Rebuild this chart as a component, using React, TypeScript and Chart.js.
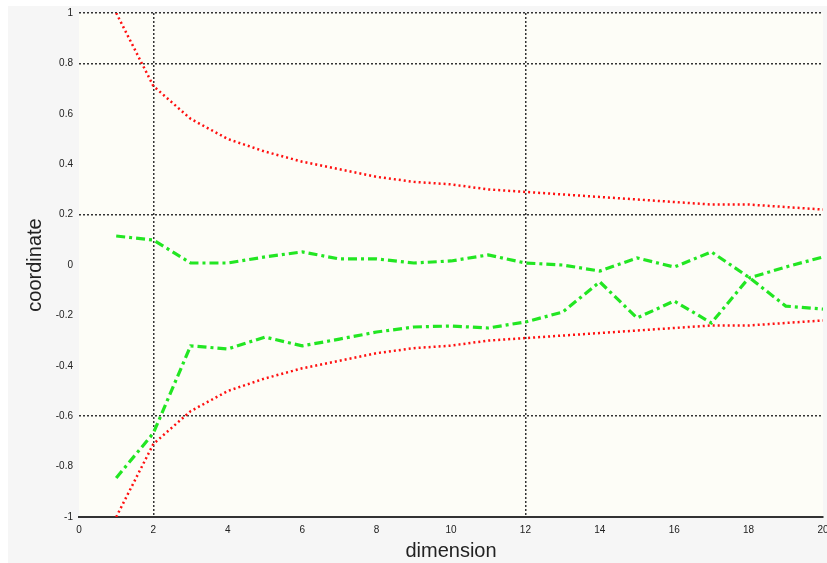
import React, { useEffect, useRef } from "react";
import { Chart, registerables } from "chart.js";

Chart.register(...registerables);

const dims = [1, 2, 3, 4, 5, 6, 7, 8, 9, 10, 11, 12, 13, 14, 15, 16, 17, 18, 19, 20];
const upperBound = [1.0, 0.71, 0.58, 0.5, 0.45, 0.41, 0.38, 0.35, 0.33, 0.32, 0.3, 0.29, 0.28, 0.27, 0.26, 0.25, 0.24, 0.24, 0.23, 0.22];
const lowerBound = [-1.0, -0.71, -0.58, -0.5, -0.45, -0.41, -0.38, -0.35, -0.33, -0.32, -0.3, -0.29, -0.28, -0.27, -0.26, -0.25, -0.24, -0.24, -0.23, -0.22];
const coordA = [0.115, 0.099, 0.008, 0.008, 0.032, 0.052, 0.024, 0.024, 0.008, 0.016, 0.04, 0.008, 0.0, -0.024, 0.028, -0.008, 0.052, -0.048, -0.163, -0.175];
const coordB = [-0.845, -0.667, -0.321, -0.333, -0.286, -0.321, -0.294, -0.266, -0.246, -0.242, -0.25, -0.226, -0.187, -0.067, -0.21, -0.143, -0.23, -0.052, -0.008, 0.032];
const xGridAt = [2, 12];
const yGridAt = [1, 0.8, 0.2, -0.6];

const pts = (ys: number[]) => dims.map((d, i) => ({ x: d, y: ys[i] }));

const plotBg = {
  id: "plotBg",
  beforeDraw(chart: any) {
    const { ctx, chartArea } = chart;
    ctx.save();
    ctx.fillStyle = "#fdfdf7";
    ctx.fillRect(chartArea.left, chartArea.top, chartArea.right - chartArea.left, chartArea.bottom - chartArea.top);
    ctx.restore();
  },
};

export default function App() {
  const ref = useRef<HTMLCanvasElement>(null);
  useEffect(() => {
    document.body.style.margin = "6px 0 0 8px";
    const red = "#ff1010";
    const green = "#22e622";
    const chart = new Chart(ref.current!, {
      type: "line",
      data: {
        datasets: [
          { data: pts(upperBound), borderColor: red, borderWidth: 2.5, borderDash: [2, 3], pointRadius: 0, fill: false, tension: 0 },
          { data: pts(lowerBound), borderColor: red, borderWidth: 2.5, borderDash: [2, 3], pointRadius: 0, fill: false, tension: 0 },
          { data: pts(coordA), borderColor: green, borderWidth: 3.2, borderDash: [9, 4, 3, 4], pointRadius: 0, fill: false, tension: 0 },
          { data: pts(coordB), borderColor: green, borderWidth: 3.2, borderDash: [9, 4, 3, 4], pointRadius: 0, fill: false, tension: 0 },
        ],
      },
      options: {
        animation: false,
        responsive: false,
        layout: { padding: { left: 0, right: 4, top: 7, bottom: 0 } },
        plugins: { legend: { display: false }, tooltip: { enabled: false } },
        scales: {
          x: {
            type: "linear",
            min: 0,
            max: 20,
            ticks: {
              stepSize: 2,
              padding: 7,
              color: "#222",
              font: { family: "Liberation Sans, Arial, sans-serif", size: 10 },
              callback: (v: any) => String(Math.round(Number(v))),
            },
            grid: {
              drawTicks: false,
              lineWidth: 1.5,
              color: (c: any) => (c.tick && xGridAt.some((g) => Math.abs(g - c.tick.value) < 1e-6) ? "rgba(30,30,30,0.9)" : "rgba(0,0,0,0)"),
            },
            border: { display: true, color: "#333", width: 2, dash: [2, 2] },
            title: {
              display: true,
              text: "dimension",
              color: "#222",
              font: { family: "Liberation Sans, Arial, sans-serif", size: 20 },
              padding: { top: 0, bottom: 0 },
            },
            afterFit: (s: any) => {
              s.height = 46;
              s.paddingLeft = 0;
              s.paddingRight = 0;
            },
          },
          y: {
            type: "linear",
            min: -1,
            max: 1,
            ticks: {
              stepSize: 0.2,
              padding: 6,
              color: "#222",
              font: { family: "Liberation Sans, Arial, sans-serif", size: 10 },
              callback: (v: any) => String(Number(Number(v).toFixed(1))),
            },
            grid: {
              drawTicks: false,
              lineWidth: 1.5,
              color: (c: any) => (c.tick && yGridAt.some((g) => Math.abs(g - c.tick.value) < 1e-6) ? "rgba(30,30,30,0.9)" : "rgba(0,0,0,0)"),
            },
            border: { display: false, dash: [2, 2] },
            title: {
              display: true,
              text: "coordinate",
              color: "#222",
              font: { family: "Liberation Sans, Arial, sans-serif", size: 20 },
              padding: { top: 15, bottom: 0 },
            },
            afterFit: (s: any) => {
              s.width = 71;
              s.paddingTop = 0;
              s.paddingBottom = 0;
            },
          },
        },
      },
      plugins: [plotBg],
    });
    return () => chart.destroy();
  }, []);
  return (
    <canvas
      ref={ref}
      width={819}
      height={557}
      style={{ display: "block", width: 819, height: 557, background: "#f6f6f6" }}
    />
  );
}
